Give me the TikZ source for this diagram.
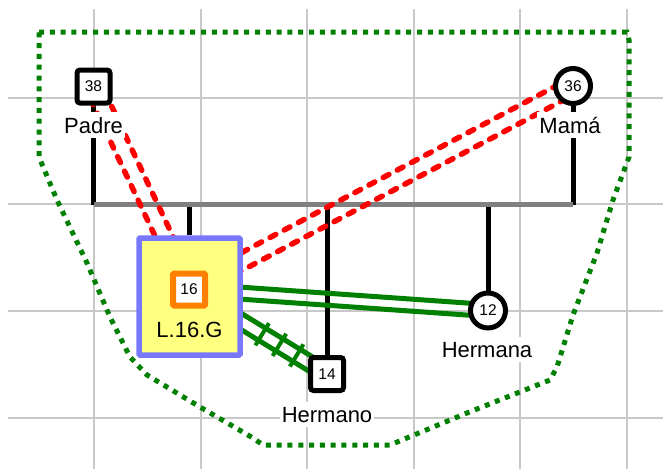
\documentclass[tikz,border=0pt]{standalone}
\usepackage{fontspec}
\setmainfont{Liberation Sans}
\usetikzlibrary{positioning, calc, backgrounds}
\definecolor{hullgreen}{RGB}{0,128,0}
\definecolor{lgyellow}{RGB}{255,255,128}
\definecolor{lgblue}{RGB}{120,120,255}
\definecolor{lgorange}{RGB}{255,128,0}
\definecolor{gridgray}{RGB}{200,200,200}
\definecolor{bargray}{RGB}{128,128,128}

\begin{document}
\begin{tikzpicture}[x=1pt, y=-1pt,
  male/.style={draw, line width=5pt, rounded corners=3pt, fill=white, minimum size=33pt, inner sep=0pt, font=\fontsize{15.5}{16}\selectfont},
  female/.style={circle, draw, line width=5pt, fill=white, minimum size=35pt, inner sep=0pt, font=\fontsize{15.5}{16}\selectfont},
  lbl/.style={fill=white, anchor=base, inner xsep=2pt, inner ysep=5pt, font=\fontsize{22}{24}\selectfont},
  famline/.style={line width=5pt},
  redrel/.style={red, line width=5.5pt, dash pattern=on 6.5pt off 9.5pt, line cap=round},
  greenrel/.style={hullgreen, line width=5pt},
  gridline/.style={gridgray, line width=2pt},
  hull/.style={hullgreen, line width=5pt, dash pattern=on 5pt off 5.8pt}]

% Picture size
\useasboundingbox (0,0) rectangle (663,469);

% Persons
\node[male] (padre) at (93.5,86.5) {38};
\node[female] (mama) at (573,86) {36};
\node[female] (hna) at (488,310.5) {12};
\node[male] (hno) at (327,374) {14};

% Index person
\node[draw=lgblue, fill=lgyellow, line width=5.5pt, minimum width=101pt, minimum height=117pt, rounded corners=1pt] (lg) at (189.5,296.5) {};
\node[draw=lgorange, fill=white, line width=6pt, minimum size=32pt, inner sep=0pt, rounded corners=1pt, font=\fontsize{15.5}{16}\selectfont] (c16) at (189,289.5) {16};
\node[anchor=base, font=\fontsize{22}{24}\selectfont] (lgname) at (189.5,337) {L.16.G};

% Names
\node[lbl] (padrelbl) at (93.5,133) {Padre};
\node[lbl] (mamalbl) at (570,133) {Mamá};
\node[lbl] (hnalbl) at (487,357) {Hermana};
\node[lbl] (hnolbl) at (327,422) {Hermano};

\begin{scope}[on background layer]
% Grid
\foreach \gx in {94,200.5,307,413.5,520,626.5}
  \draw[gridline] (\gx,9) -- (\gx,469);
\foreach \gy in {97.7,204.3,310.9,417.5}
  \draw[gridline] (8,\gy) -- (663,\gy);

% Hull
\draw[hull] (39,32) -- (627,32) -- (629,40) -- (629,157) -- (613,200) -- (597,253)
  -- (573,315) -- (557,367) -- (550,380) -- (467,413) -- (402,440) -- (390,445)
  -- (263,445) -- (253,438) -- (200,407) -- (147,375) -- (130,357) -- (110,317)
  -- (87,263) -- (57,200) -- (39,157) -- cycle;

% Family lines
\coordinate (barL) at (93.5,204.5);
\coordinate (barR) at (573,204.5);
\draw[famline] (padre) -- (barL);
\draw[famline] (mama) -- (barR);
\draw[famline] (lg.north |- barL) -- (lg.north);
\draw[famline] (hno |- barL) -- (hno);
\draw[famline] (hna |- barL) -- (hna);
\draw[bargray, line width=5pt] (barL) -- (barR);

% Relations
\draw[redrel] ($(c16.center)!8pt!90:(padre.center)$) -- ($(padre.center)!8pt!-90:(c16.center)$);
\draw[redrel] ($(c16.center)!8pt!-90:(padre.center)$) -- ($(padre.center)!8pt!90:(c16.center)$);
\draw[redrel] ($(c16.center)!8pt!90:(mama.center)$) -- ($(mama.center)!8pt!-90:(c16.center)$);
\draw[redrel] ($(c16.center)!8pt!-90:(mama.center)$) -- ($(mama.center)!8pt!90:(c16.center)$);
\draw[greenrel] ($(c16.center)!6pt!90:(hna.center)$) -- ($(hna.center)!6pt!-90:(c16.center)$);
\draw[greenrel] ($(c16.center)!6pt!-90:(hna.center)$) -- ($(hna.center)!6pt!90:(c16.center)$);
\draw[greenrel] ($(c16.center)!7pt!90:(hno.center)$) -- ($(hno.center)!7pt!-90:(c16.center)$);
\draw[greenrel] ($(c16.center)!7pt!-90:(hno.center)$) -- ($(hno.center)!7pt!90:(c16.center)$);
\foreach \p in {0.53,0.655,0.78}
  \draw[greenrel, line width=4pt] ($(c16.center)!\p!(hno.center)!13pt!90:(hno.center)$)
    -- ($(c16.center)!\p!(hno.center)!13pt!-90:(hno.center)$);
\end{scope}

\end{tikzpicture}
\end{document}
